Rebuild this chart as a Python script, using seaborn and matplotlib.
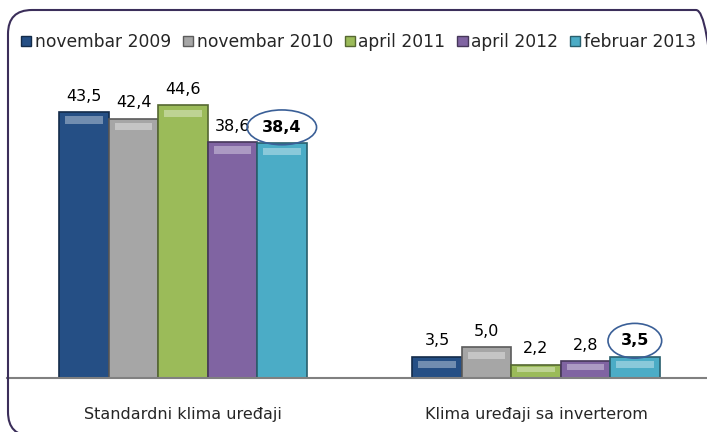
import pandas as pd
import matplotlib
matplotlib.use('Agg')
import matplotlib.pyplot as plt
import seaborn as sns
from matplotlib.patches import FancyBboxPatch, Rectangle
from matplotlib.transforms import IdentityTransform
import matplotlib.colors as mcolors

# podaci
kategorije = ['Standardni klima uređaji', 'Klima uređaji sa inverterom']
periodi = ['novembar 2009', 'novembar 2010', 'april 2011', 'april 2012', 'februar 2013']
standardni = [43.5, 42.4, 44.6, 38.6, 38.4]
inverter = [3.5, 5.0, 2.2, 2.8, 3.5]
boje = ['#254f85', '#a6a6a6', '#9bbb59', '#8064a2', '#4bacc6']

df = pd.DataFrame({
    'kategorija': [kategorije[0]] * 5 + [kategorije[1]] * 5,
    'period': periodi * 2,
    'vrednost': standardni + inverter,
})

sns.set_style('white')
plt.rcParams['font.family'] = ['DejaVu Sans']

fig = plt.figure(figsize=(7.07, 4.32), dpi=100)
ax = fig.add_axes([6.5 / 707, 54 / 432, 706 / 707, 318 / 432])

sns.barplot(data=df, x='kategorija', y='vrednost', hue='period', order=kategorije,
            hue_order=periodi, palette=boje, width=0.7, saturation=1, ax=ax,
            legend=False)

for i, cont in enumerate(ax.containers):
    tamna = tuple(c * 0.55 for c in mcolors.to_rgb(boje[i]))
    svetla = tuple(c + (1 - c) * 0.35 for c in mcolors.to_rgb(boje[i]))
    for p in cont:
        p.set_edgecolor(tamna)
        p.set_linewidth(1.2)
        # svetlija traka na vrhu (3D efekat)
        x0, w, h = p.get_x(), p.get_width(), p.get_height()
        traka = min(1.2, h * 0.35)
        ax.add_patch(Rectangle((x0 + w * 0.12, h - traka * 1.6), w * 0.76, traka,
                               facecolor=svetla, edgecolor='none', zorder=3))
    bold = i == len(periodi) - 1
    ax.bar_label(cont, labels=[f'{v:.1f}'.replace('.', ',') for v in cont.datavalues],
                 padding=6, fontsize=11.5, color='black',
                 fontweight='bold' if bold else 'normal',
                 bbox=dict(boxstyle='ellipse,pad=0.3', fc='none', ec='#3a5f97', lw=1.2) if bold else None)

ax.set_xlim(-0.5, 1.5)
ax.set_ylim(0, 52)
ax.set_xlabel('')
ax.set_ylabel('')
ax.set_yticks([])
ax.set_xticks([0, 1])
ax.set_xticklabels(kategorije, fontsize=11.5)
ax.set_xticks([-0.495, 0.5], minor=True)
ax.tick_params(axis='x', which='major', length=0, pad=21)
ax.tick_params(axis='x', which='minor', length=5, color='#808080', width=1, direction='out')
for s in ['top', 'right', 'left']:
    ax.spines[s].set_visible(False)
ax.spines['bottom'].set_color('#808080')
ax.spines['bottom'].set_linewidth(1.5)

# legenda
ruke = [plt.Rectangle((0, 0), 1, 1, facecolor=b, edgecolor=tuple(c * 0.55 for c in mcolors.to_rgb(b)))
        for b in boje]
fig.legend(ruke, periodi, loc='center', bbox_to_anchor=(0.507, 1 - 42 / 432), ncol=5,
           frameon=False, fontsize=12.3, handlelength=0.6, handleheight=0.6,
           handletextpad=0.2, columnspacing=0.7)

# okvir (u pikselima)
okvir = FancyBboxPatch((8, -4), 712, 426,
                       boxstyle='round,pad=0,rounding_size=24', transform=IdentityTransform(),
                       fill=False, edgecolor='#3b2e5a', linewidth=1.5, clip_on=False)
fig.patches.append(okvir)

fig.savefig('out.png', dpi=100)
